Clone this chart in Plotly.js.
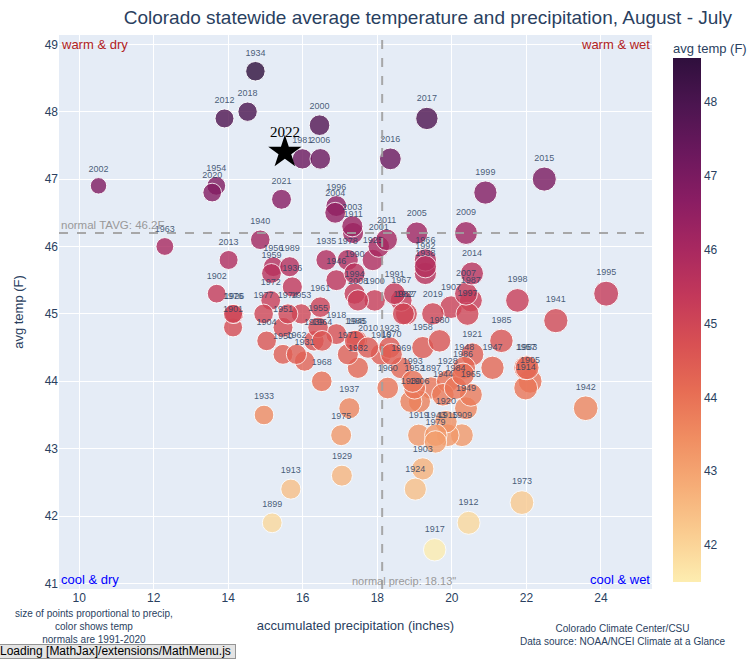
<!DOCTYPE html>
<html>
<head>
<meta charset="utf-8">
<script src="https://cdn.plot.ly/plotly-3.0.1.min.js"></script>
<style>
body{margin:0;padding:0;background:#fff;}
#chart{width:756px;height:659px;position:absolute;left:0;top:0;}
#mj{position:absolute;left:-5px;bottom:0;height:13px;line-height:13px;padding:0 4px;border:1px solid #959595;background:#e4e4e4;font-family:"Liberation Sans",Arial,sans-serif;font-size:12px;color:#000;white-space:nowrap;z-index:10;}
</style>
</head>
<body>
<div id="chart"></div>
<div id="mj">Loading [MathJax]/extensions/MathMenu.js</div>
<script>
const years = [1897,1899,1900,1901,1902,1903,1904,1905,1906,1907,1909,1911,1912,1913,1914,1915,1916,1917,1918,1919,1920,1921,1923,1924,1925,1926,1927,1928,1929,1930,1931,1932,1933,1934,1935,1936,1937,1938,1939,1940,1941,1942,1943,1944,1945,1946,1947,1948,1949,1950,1951,1952,1953,1954,1955,1956,1957,1958,1959,1960,1961,1962,1963,1964,1965,1966,1967,1968,1969,1970,1971,1972,1973,1974,1975,1976,1977,1978,1979,1980,1981,1982,1983,1984,1985,1986,1987,1988,1989,1990,1991,1992,1993,1994,1995,1996,1997,1998,1999,2000,2001,2002,2003,2004,2005,2006,2007,2008,2009,2010,2011,2012,2013,2014,2015,2016,2017,2018,2019,2020,2021];
const precip = [19.44,15.18,17.93,14.13,13.69,19.22,15.03,22.10,19.13,19.98,20.27,17.35,20.45,15.68,21.98,19.89,18.10,19.54,16.90,19.11,19.84,20.55,18.33,19.02,17.88,14.16,18.78,19.89,17.05,18.90,16.05,17.48,14.96,14.73,16.63,15.72,17.25,19.29,16.30,14.86,22.79,23.59,19.57,19.76,17.45,16.90,21.09,20.33,20.38,15.47,15.47,19.00,15.96,13.68,16.41,15.21,21.98,19.22,15.16,18.28,16.47,15.83,12.30,16.52,20.51,19.29,18.64,16.51,18.64,18.38,17.21,15.14,21.88,15.60,17.03,14.13,14.95,17.21,19.56,19.67,15.99,18.70,22.02,20.10,21.33,20.30,20.51,17.40,15.65,17.39,18.46,19.29,18.95,17.39,24.14,16.90,20.42,21.76,20.90,16.45,18.04,10.52,17.33,16.87,19.06,16.47,20.38,17.48,20.38,17.75,18.25,13.90,14.01,20.54,22.48,18.35,19.33,14.52,19.49,13.57,15.43];
const temp = [43.9,41.9,45.2,44.8,45.3,42.7,44.6,44.0,43.7,45.1,43.2,46.2,41.9,42.4,43.9,43.2,44.4,41.5,44.7,43.2,43.4,44.4,44.5,42.4,45.8,45.0,45.0,44.0,42.6,43.7,44.3,44.2,43.5,48.6,45.8,45.4,43.6,45.6,44.6,46.1,44.9,43.6,43.2,43.8,44.6,45.5,44.2,44.2,43.6,44.4,44.8,43.9,45.0,46.9,44.8,45.7,44.2,44.5,45.6,43.9,45.1,44.4,46.0,44.6,43.8,45.8,45.2,44.0,44.2,44.4,44.4,45.2,42.2,45.0,43.2,45.0,45.0,45.8,43.1,44.6,47.3,45.0,44.2,43.9,44.6,44.1,45.2,44.6,45.7,45.6,45.3,45.7,44.0,45.3,45.3,46.6,45.0,45.2,46.8,47.8,46.0,46.9,46.3,46.5,46.2,47.3,45.3,45.2,46.2,44.5,46.1,47.9,45.8,45.6,47.0,47.3,47.9,48.0,45.0,46.8,46.7];

const currentYear = ['2022'];
const currentPrecip = [15.52];
const currentTemp = [47.4];

const normalTemp = 46.2;
const normalPrecip = 18.13;

const matter = [
  [0.0,'rgb(253,237,176)'],[0.0909,'rgb(250,205,145)'],[0.1818,'rgb(246,173,119)'],
  [0.2727,'rgb(240,142,98)'],[0.3636,'rgb(231,109,84)'],[0.4545,'rgb(216,80,83)'],
  [0.5454,'rgb(195,56,90)'],[0.6363,'rgb(168,40,96)'],[0.7272,'rgb(138,29,99)'],
  [0.8181,'rgb(107,24,93)'],[0.9090,'rgb(76,21,80)'],[1.0,'rgb(47,15,61)']
];

const FONT = '"Liberation Sans", Arial, sans-serif';
const INK = '#2a3f5f';
const maxP = Math.max(...precip);

const pts = {
  type:'scatter', mode:'markers+text',
  x: precip, y: temp, text: years.map(String),
  textposition:'top center',
  textfont:{family:FONT, size:9, color:'rgba(42,63,95,0.85)'},
  marker:{
    size: precip, sizemode:'area', sizeref: 8*maxP/(50*50),
    color: temp, colorscale: matter, opacity:0.8,
    line:{color:'white', width:1},
    colorbar:{thickness:28, outlinewidth:0, ticks:'', xpad:0, ypad:0,
      x:1.035, xanchor:'left', yanchor:'top', y:0.9585, len:0.946,
      tickfont:{size:12,family:FONT,color:INK}}
  },
  showlegend:false, hoverinfo:'skip'
};

const star = {
  type:'scatter', mode:'markers',
  x: currentPrecip, y: currentTemp,
  marker:{symbol:'star', size:25, color:'black'},
  showlegend:false, hoverinfo:'skip'
};

const gray = 'rgba(160,160,160,0.9)';
const layout = {
  width:756, height:659,
  margin:{l:59, r:104, t:35, b:70},
  paper_bgcolor:'white', plot_bgcolor:'#E5ECF6',
  font:{family:FONT, color:INK, size:12},
  title:{text:'Colorado statewide average temperature and precipitation, August - July', font:{size:19, family:FONT, color:INK}, x:0.566, xanchor:'center', y:0.973, yanchor:'middle'},
  xaxis:{range:[9.46,25.37], dtick:2, gridcolor:'white', zeroline:false, showline:false, ticks:'',
    title:{text:'accumulated precipitation (inches)', font:{size:13}, standoff:16}},
  yaxis:{range:[40.918,49.138], dtick:1, gridcolor:'white', zeroline:false, showline:false, ticks:'',
    title:{text:'avg temp (F)', font:{size:13}}},
  shapes:[
    {type:'line', xref:'paper', x0:0, x1:1, yref:'y', y0:normalTemp, y1:normalTemp, line:{color:gray, width:2, dash:'dash'}},
    {type:'line', yref:'paper', y0:0, y1:1, xref:'x', x0:normalPrecip, x1:normalPrecip, line:{color:gray, width:2, dash:'dash'}}
  ],
  annotations:[
    {text:currentYear[0], xref:'x', yref:'y', x:currentPrecip[0], y:currentTemp[0], yshift:20, showarrow:false, font:{family:'"Liberation Serif","Times New Roman",serif', size:15, color:'black'}},
    {text:'avg temp (F)', xref:'paper', yref:'paper', x:1.032, y:0.9765, xanchor:'left', yanchor:'middle', showarrow:false, font:{size:13, color:INK}},
    {text:'warm & dry', xref:'paper', yref:'paper', x:0, y:1, xanchor:'left', yanchor:'top', showarrow:false, font:{size:13, color:'firebrick'}},
    {text:'warm & wet', xref:'paper', yref:'paper', x:1, y:1, xanchor:'right', yanchor:'top', showarrow:false, font:{size:13, color:'firebrick'}},
    {text:'cool & dry', xref:'paper', yref:'paper', x:0, y:0, xanchor:'left', yanchor:'bottom', showarrow:false, font:{size:13, color:'blue'}},
    {text:'cool & wet', xref:'paper', yref:'paper', x:1, y:0, xanchor:'right', yanchor:'bottom', showarrow:false, font:{size:13, color:'blue'}},
    {text:'normal TAVG: '+normalTemp+'F', xref:'paper', yref:'y', x:0, y:normalTemp, xanchor:'left', yanchor:'bottom', showarrow:false, font:{size:11.5, color:'#999'}},
    {text:'normal precip: '+normalPrecip+'"', xref:'x', yref:'paper', x:normalPrecip, xshift:22, y:0, xanchor:'center', yanchor:'bottom', showarrow:false, font:{size:11, color:'#999'}},
    {text:'size of points proportional to precip,<br>color shows temp<br>normals are 1991-2020', xref:'paper', yref:'paper', x:0.059, y:-0.030, xanchor:'center', yanchor:'top', showarrow:false, font:{size:10, color:INK}},
    {text:'Colorado Climate Center/CSU<br>Data source: NOAA/NCEI Climate at a Glance', xref:'paper', yref:'paper', x:0.951, y:-0.058, xanchor:'center', yanchor:'top', showarrow:false, font:{size:10, color:INK}}
  ]
};

Plotly.newPlot('chart', [pts, star], layout, {displayModeBar:false, staticPlot:true});
</script>
</body>
</html>
